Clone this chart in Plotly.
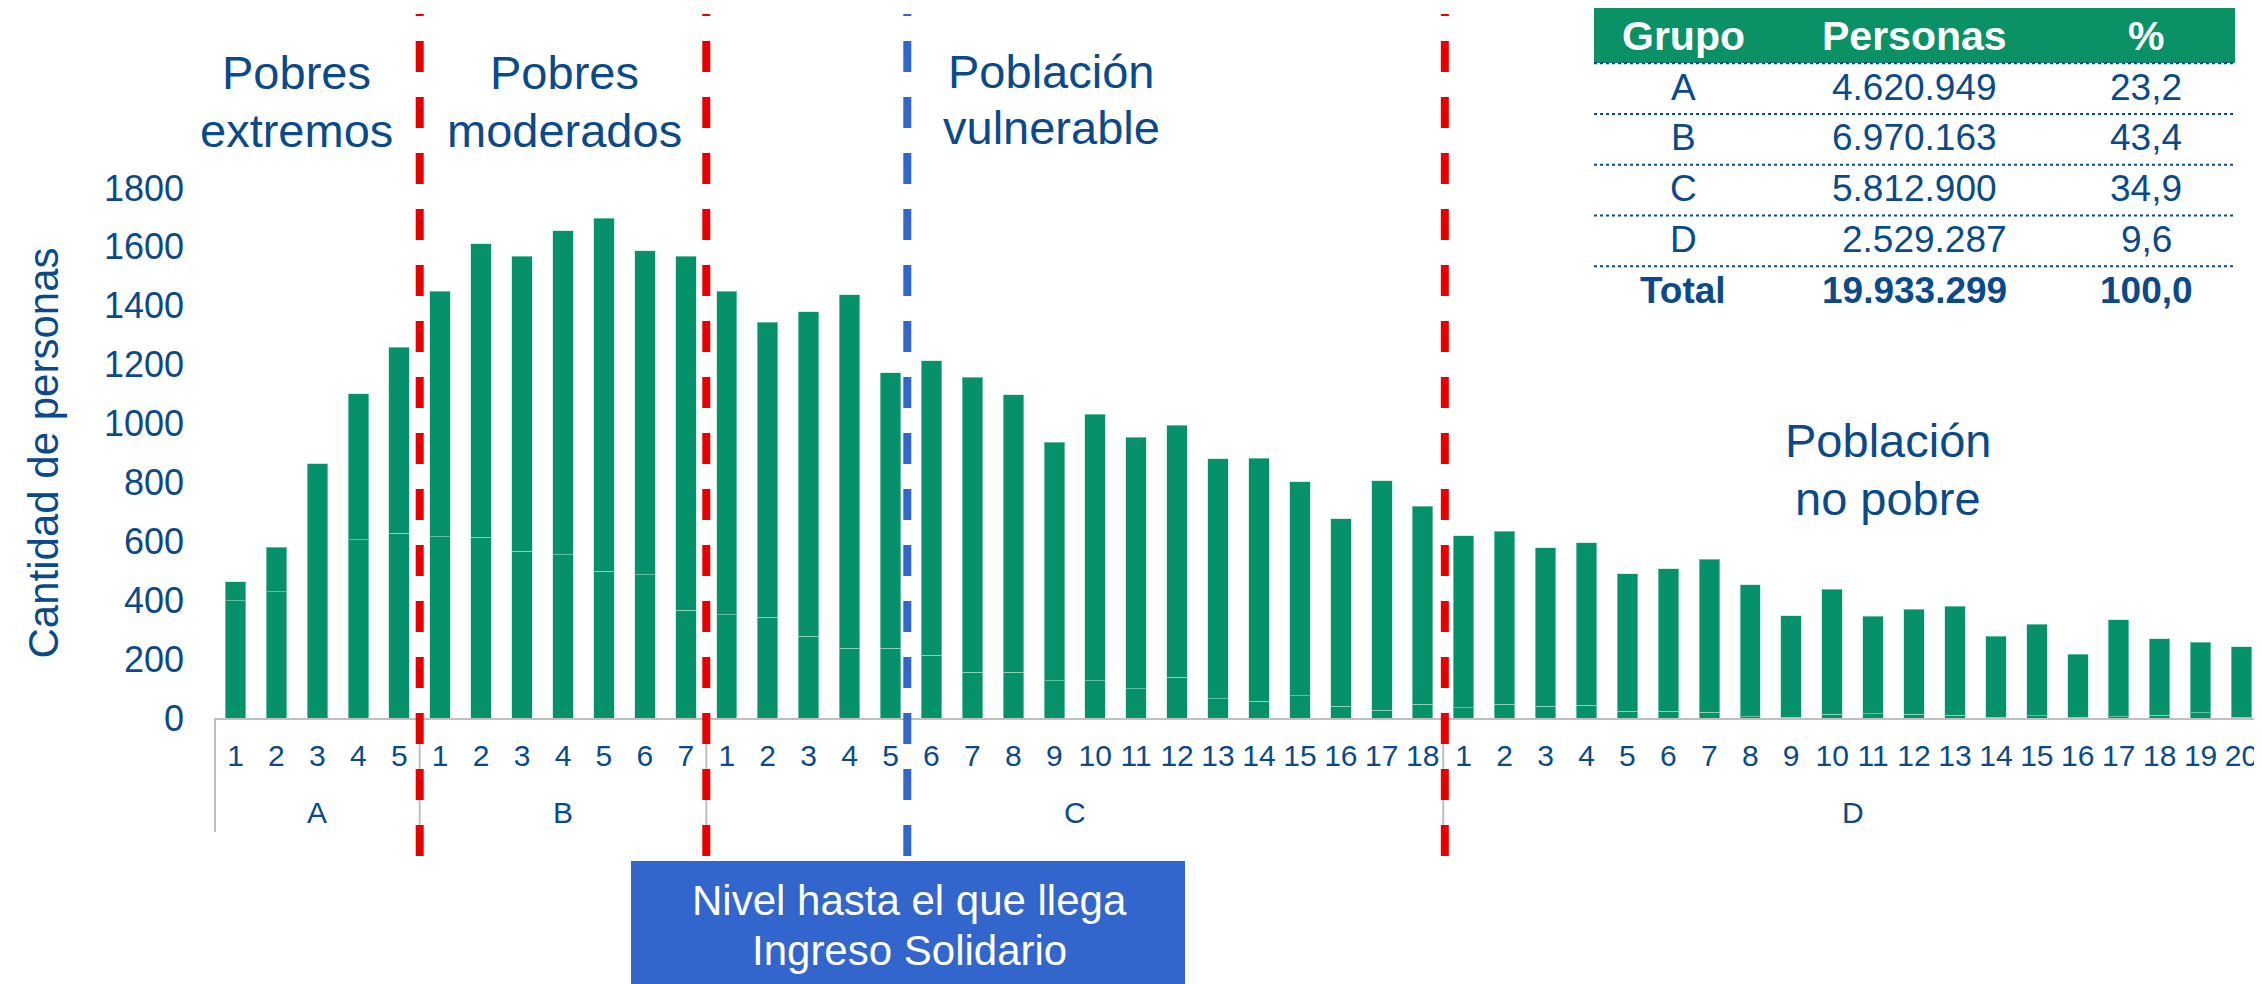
import plotly.graph_objects as go

# ---------------- data ----------------
group_names = ["A", "B", "C", "D"]
total_A = [462, 580, 864, 1102, 1260]
lower_A = [398, 428, 864, 606, 628]
total_B = [1450, 1611, 1568, 1654, 1698, 1587, 1568]
lower_B = [616, 614, 566, 555, 498, 487, 366]
total_C = [1450, 1344, 1379, 1437, 1172, 1214, 1157, 1098, 936, 1031,
           954, 995, 881, 883, 803, 677, 805, 719]
lower_C = [350, 342, 277, 237, 237, 213, 156, 155, 126, 126,
           99, 138, 65, 57, 75, 40, 26, 46]
total_D = [619, 635, 579, 596, 490, 507, 539, 453, 347, 438,
           346, 370, 380, 277, 319, 216, 333, 269, 257, 242]
lower_D = [35, 46, 40, 43, 23, 23, 19, 4, 3, 13,
           15, 12, 10, 3, 8, 3, 5, 10, 18, 3]

y_ticks = [0, 200, 400, 600, 800, 1000, 1200, 1400, 1600, 1800]

table_header = ["Grupo", "Personas", "%"]
table_grupo = ["A", "B", "C", "D"]
table_personas = ["4.620.949", "6.970.163", "5.812.900", "2.529.287"]
table_pct = ["23,2", "43,4", "34,9", "9,6"]
table_total = ["Total", "19.933.299", "100,0"]

section_labels = [("Pobres", "extremos"), ("Pobres", "moderados"),
                  ("Población", "vulnerable"), ("Población", "no pobre")]
box_text = ["Nivel hasta el que llega", "Ingreso Solidario"]

# ---------------- build categories ----------------
totals = [total_A, total_B, total_C, total_D]
lowers = [lower_A, lower_B, lower_C, lower_D]
cats, ticktext, lo, up = [], [], [], []
group_spans = []
for g, t, l in zip(group_names, totals, lowers):
    start = len(cats)
    for i, (tv, lv) in enumerate(zip(t, l)):
        cats.append(f"{g}-{i + 1}")
        ticktext.append(str(i + 1))
        lo.append(lv)
        up.append(tv - lv)
    group_spans.append((g, start, len(cats)))
ncat = len(cats)

# page is 2262x984; the html body has an 8px default margin
OFF = 8
W, H = 2262 - OFF, 984 - OFF
PL_PAGE, PT_PAGE, PBOT_PAGE = 215, 188, 718
PL = PL_PAGE - OFF
PT = PT_PAGE - OFF
PR = 0
PW = W - PL - PR
PH = PBOT_PAGE - PT_PAGE
PB = H - PT - PH


def px(x):  # page pixel -> paper
    return (x - PL_PAGE) / PW


def py(y):  # page pixel -> paper
    return (PBOT_PAGE - y) / PH


BLUE_TXT = "#0B4A8A"
GREEN = "#07916A"
GRAY = "#BFBFBF"
FONT = "Liberation Sans, Arial, sans-serif"

fig = go.Figure()
for vals in (lo, up):
    fig.add_trace(go.Bar(
        x=cats, y=vals,
        marker=dict(color=GREEN, line=dict(color="rgba(170,230,205,0.55)", width=1)),
        showlegend=False, hoverinfo="skip"))

shapes = []
annotations = []


def ann(text, x, y, size, color=BLUE_TXT, bold=False, xpaper=None):
    annotations.append(dict(
        text=f"<b>{text}</b>" if bold else text,
        xref="paper", yref="paper", x=px(x) if xpaper is None else xpaper, y=py(y),
        xanchor="center", yanchor="middle", showarrow=False,
        font=dict(family=FONT, size=size, color=color)))


# category-group dividers and labels below the axis
for k, (g, s, e) in enumerate(group_spans):
    if k == 0:
        shapes.append(dict(type="line", xref="paper", yref="paper",
                           x0=s / ncat, x1=s / ncat, y0=py(718), y1=py(832),
                           line=dict(color=GRAY, width=2)))
    if k < len(group_spans) - 1:
        shapes.append(dict(type="line", xref="paper", yref="paper",
                           x0=e / ncat, x1=e / ncat, y0=py(718), y1=py(832),
                           line=dict(color=GRAY, width=2)))
    ann(g, None, 812, 30, xpaper=(s + e) / 2 / ncat)

# dashed dividers (category boundary positions)
for pos, col in [(5, "#E60000"), (12, "#E60000"), (16.91, "#3366CC"), (30.04, "#E60000")]:
    xp = pos / ncat
    shapes.append(dict(type="line", xref="paper", yref="paper",
                       x0=xp, x1=xp, y0=py(856), y1=py(14),
                       line=dict(color=col, width=8, dash="31px,25px"), layer="above"))

# blue box
shapes.append(dict(type="rect", xref="paper", yref="paper",
                   x0=px(631), x1=px(1185), y0=py(995), y1=py(861),
                   fillcolor="#3366CC", line=dict(width=0), layer="above"))

# table
tx0, tx1 = 1594, 2235
shapes.append(dict(type="rect", xref="paper", yref="paper",
                   x0=px(tx0), x1=px(tx1), y0=py(63), y1=py(7),
                   fillcolor="#0A9166", line=dict(width=0), layer="above"))
row_top = 63.3
row_h = 50.75
for i in range(5):
    yy = row_top + i * row_h
    shapes.append(dict(type="line", xref="paper", yref="paper",
                       x0=px(tx0), x1=px(tx1), y0=py(yy), y1=py(yy),
                       line=dict(color=BLUE_TXT, width=2, dash="dot"), layer="above"))

# section headings
heading_pos = [(296, 72.5, 130.5), (564, 72.5, 130.5), (1051, 71.5, 127.5), (1888, 440.5, 498.5)]
for (l1, l2), (xc, y1, y2) in zip(section_labels, heading_pos):
    ann(l1, xc, y1, 47)
    ann(l2, xc, y2, 47)

# table text
col_x = [1683, 1914, 2146]
for t, xc in zip(table_header, col_x):
    ann(t, xc, 35.5, 41, color="white", bold=True)
for i, (g, p, pc) in enumerate(zip(table_grupo, table_personas, table_pct)):
    yc = row_top + (i + 0.5) * row_h - 1.5
    ann(g, col_x[0], yc, 37)
    ann(p, col_x[1] + (10 if i == 3 else 0), yc, 37)
    ann(pc, col_x[2], yc, 37)
yc = row_top + 4.5 * row_h - 1.5
for t, xc in zip(table_total, col_x):
    ann(t, xc, yc, 37, bold=True)

# box text
ann(box_text[0], 909, 900, 42, color="white")
ann(box_text[1], 909, 950, 42, color="white")

fig.update_layout(
    width=W, height=H,
    margin=dict(l=PL, r=PR, t=PT, b=PB, pad=0),
    paper_bgcolor="white", plot_bgcolor="white",
    barmode="stack", bargap=0.5,
    font=dict(family=FONT, color=BLUE_TXT),
    shapes=shapes, annotations=annotations,
    xaxis=dict(type="category", categoryorder="array", categoryarray=cats,
               tickmode="array", tickvals=cats, ticktext=ticktext,
               showline=True, linecolor=GRAY, linewidth=2,
               showgrid=False, ticks="", tickangle=0, ticklabelstandoff=10,
               tickfont=dict(size=30, color=BLUE_TXT),
               range=[-0.5, ncat - 0.5], automargin=False),
    yaxis=dict(range=[0, 1800], tickvals=y_ticks, showgrid=False, zeroline=False,
               showline=False, ticks="", tickfont=dict(size=36, color=BLUE_TXT),
               ticklabelstandoff=30, automargin=False,
               title=dict(text="Cantidad de personas", font=dict(size=42, color=BLUE_TXT),
                          standoff=32)),
)

fig.write_html("out.html")
